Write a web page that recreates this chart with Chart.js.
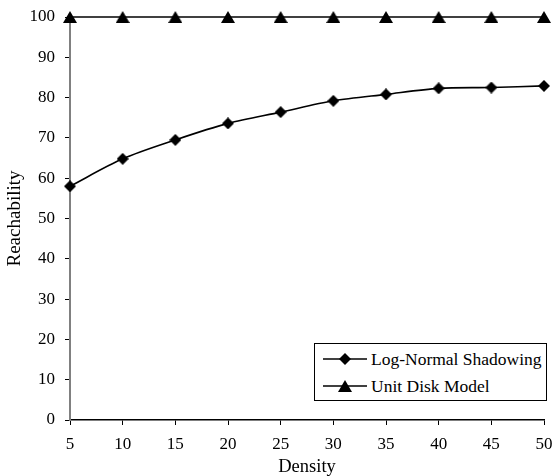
<!DOCTYPE html>
<html>
<head>
<meta charset="utf-8">
<script src="https://cdn.jsdelivr.net/npm/chart.js@4/dist/chart.umd.min.js"></script>
<style>
  html, body { margin: 0; padding: 0; background: #fff; }
  #wrap { position: relative; width: 553px; height: 476px; }
  #legend {
    position: absolute; left: 314px; top: 343px; width: 231px; height: 56px;
    border: 1px solid #000; background: #fff;
    font-family: 'Liberation Serif', 'Times New Roman', serif; font-size: 17.5px; color: #000;
  }
  #legend .row { position: absolute; left: 8px; height: 20px; display: flex; align-items: center; }
  #legend svg { margin-right: 2px; }
</style>
</head>
<body>
<div id="wrap">
  <canvas id="chart" width="553" height="476"></canvas>
  <div id="legend"></div>
</div>
<script>
const densities = ['5', '10', '15', '20', '25', '30', '35', '40', '45', '50'];
const logNormal = [58, 64.8, 69.5, 73.6, 76.4, 79.2, 80.8, 82.3, 82.5, 82.9];
const unitDisk = [100, 100, 100, 100, 100, 100, 100, 100, 100, 100];
const yTicks = [0, 10, 20, 30, 40, 50, 60, 70, 80, 90, 100];

const serif = "'Liberation Serif', 'Times New Roman', serif";

function markerCanvas(kind) {
  const c = document.createElement('canvas');
  if (kind === 'diamond') {
    c.width = 12; c.height = 12;
  } else {
    c.width = 14; c.height = 12;
  }
  const ctx = c.getContext('2d');
  ctx.fillStyle = '#000';
  ctx.beginPath();
  if (kind === 'diamond') {
    ctx.moveTo(6, 0); ctx.lineTo(12, 6); ctx.lineTo(6, 12); ctx.lineTo(0, 6);
  } else {
    ctx.moveTo(7, 0); ctx.lineTo(14, 12); ctx.lineTo(0, 12);
  }
  ctx.closePath();
  ctx.fill();
  return c;
}

const diamond = markerCanvas('diamond');
const triangle = markerCanvas('triangle');

const series = [
  { label: 'Log-Normal Shadowing', data: logNormal, marker: diamond },
  { label: 'Unit Disk Model', data: unitDisk, marker: triangle },
];

new Chart(document.getElementById('chart'), {
  type: 'line',
  data: {
    labels: densities,
    datasets: series.map((s) => ({
      label: s.label,
      data: s.data,
      borderColor: '#000',
      backgroundColor: '#000',
      borderWidth: 1.6,
      tension: 0.3,
      pointStyle: s.marker,
      clip: false,
    })),
  },
  options: {
    responsive: false,
    animation: false,
    layout: { padding: { top: 17, right: 9, left: 0, bottom: 0 } },
    plugins: { legend: { display: false }, tooltip: { enabled: false } },
    scales: {
      x: {
        type: 'category',
        offset: false,
        grid: { drawOnChartArea: false, drawTicks: true, tickLength: 5, color: '#000' },
        border: { color: '#000', width: 1.5 },
        ticks: { color: '#000', font: { family: serif, size: 17 }, padding: 9, maxRotation: 0, autoSkip: false },
        title: { display: true, text: 'Density', color: '#000', font: { family: serif, size: 18.5, lineHeight: 1 }, padding: 0 },
        afterFit: (scale) => {
          scale.height = 56;
          scale.paddingLeft = 0;
          scale.paddingRight = 0;
        },
      },
      y: {
        min: 0,
        max: 100,
        afterBuildTicks: (scale) => { scale.ticks = yTicks.map((v) => ({ value: v })); },
        grid: { drawOnChartArea: false, drawTicks: true, tickLength: 5, color: '#000' },
        border: { color: '#808080', width: 2 },
        ticks: { color: '#000', font: { family: serif, size: 17 }, padding: 10 },
        title: { display: true, text: 'Reachability', color: '#000', font: { family: serif, size: 19, lineHeight: 1 }, padding: { top: 6, bottom: 0 } },
        afterFit: (scale) => {
          scale.width = 70;
          scale.paddingTop = 0;
          scale.paddingBottom = 0;
        },
      },
    },
  },
});

// legend as real text
const legend = document.getElementById('legend');
series.forEach((s, i) => {
  const row = document.createElement('div');
  row.className = 'row';
  row.style.top = (i === 0 ? 5 : 32) + 'px';
  const shape = s.marker === triangle
    ? '<polygon points="22,4 29,16 15,16" fill="#000"/>'
    : '<polygon points="22,4 28,10 22,16 16,10" fill="#000"/>';
  row.innerHTML = `<svg width="46" height="20"><line x1="0" y1="10" x2="44" y2="10" stroke="#000" stroke-width="1.6"/>${shape}</svg><span>${s.label}</span>`;
  legend.appendChild(row);
});
</script>
</body>
</html>
